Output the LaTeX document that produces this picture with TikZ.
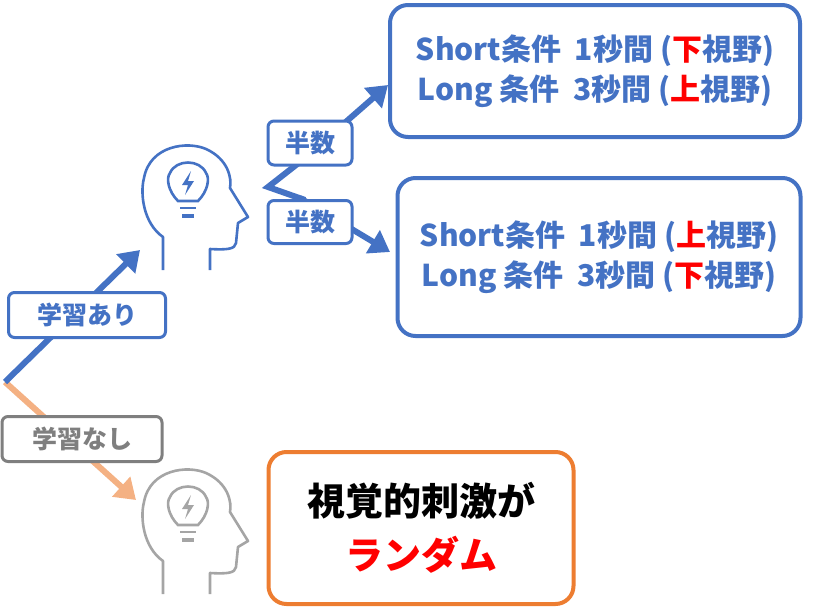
\documentclass[tikz,border=0pt]{standalone}
\usepackage{fontspec}
\setmainfont{Noto Sans CJK JP}
\usetikzlibrary{arrows.meta}
\definecolor{bl}{HTML}{4472C4}
\definecolor{og}{HTML}{F4B183}
\definecolor{dk}{HTML}{ED7D31}
\definecolor{gr}{HTML}{7F7F7F}
\definecolor{lg}{HTML}{A5A5A5}
\tikzset{
 lbl/.style={draw=#1,line width=3pt,rounded corners=6pt,fill=white,text=#1,font=\fontsize{25}{28}\selectfont\bfseries,inner sep=0pt},
 bigbox/.style={draw=#1,line width=4pt,rounded corners=18pt,fill=white,text=bl,font=\fontsize{30}{40}\selectfont\bfseries,align=center,inner sep=0pt},
 arr/.style={line width=6pt,-{Triangle[length=20pt,width=26pt]}},
 pics/head/.style={code={
  \draw[line width=2.6pt,#1,line join=round] (-25,87)--(-25,54) .. controls (-45,40) and (-48,10) .. (-44,-5)
   .. controls (-38,-38) and (0,-42) .. (18,-34) .. controls (40,-24) and (44,-5) .. (42,5)
   -- (60,34) -- (50,40) -- (48,60) .. controls (47,66) and (40,67) .. (22,66) -- (22,87);
  \draw[line width=2.6pt,#1] (-10,18) .. controls (-20,8) and (-22,-5) .. (-18,-10)
    .. controls (-12,-24) and (12,-24) .. (18,-10) .. controls (22,-5) and (20,8) .. (10,18) -- cycle;
  \fill[#1] (3,-12) -- (-6,2) -- (0,2) -- (-3,12) -- (6,-2) -- (0,-2) -- cycle;
  \draw[line width=2.6pt,#1] (-8,25)--(8,25);
  \fill[#1] (-6,31) rectangle (6,35);
 }}
}
\begin{document}
\begin{tikzpicture}[x=1pt,y=-1pt]
\useasboundingbox (0,0) rectangle (814,608);
\pic at (188,183) {head=bl};
\pic at (188,507) {head=lg};
\coordinate (o) at (5,382);
\coordinate (h1) at (140,250);
\coordinate (h2) at (136,500);
\coordinate (z) at (268,187);
\draw[arr,og] (o) -- (h2);
\draw[arr,bl] (o) -- (h1);
\draw[bl,line width=6pt,line join=miter] (305,158) -- (z) -- (305,200);
\draw[arr,bl] (300,162) -- (388,85);
\draw[arr,bl] (300,198) -- (390,252);
\node[lbl=bl,minimum width=84pt,minimum height=44pt] (hs1) at (310,143) {半数};
\node[lbl=bl,minimum width=84pt,minimum height=43pt] (hs2) at (310,222) {半数};
\node[lbl=bl,minimum width=157pt,minimum height=45pt] (ga) at (87,315) {学習あり};
\node[lbl=gr,minimum width=160pt,minimum height=45pt] (gn) at (82,439) {学習なし};
\node[bigbox=bl,minimum width=410pt,minimum height=132pt] (b1) at (595,71)
 {Short条件\ \ 1秒間 (\textcolor{red}{下}視野)\\Long 条件\ \ 3秒間 (\textcolor{red}{上}視野)};
\node[bigbox=bl,minimum width=403pt,minimum height=158pt] (b2) at (599,257)
 {Short条件\ \ 1秒間 (\textcolor{red}{上}視野)\\Long 条件\ \ 3秒間 (\textcolor{red}{下}視野)};
\node[bigbox=dk,text=black,minimum width=305pt,minimum height=152pt,font=\fontsize{38}{54}\selectfont\bfseries] (b3) at (421,528)
 {視覚的刺激が\\\textcolor{red}{ランダム}};
\end{tikzpicture}
\end{document}
